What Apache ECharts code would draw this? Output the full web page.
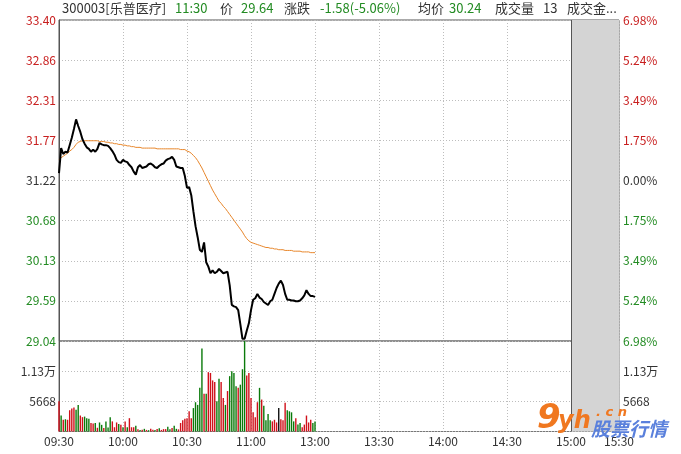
<!DOCTYPE html>
<html><head><meta charset="utf-8">
<script src="https://cdn.jsdelivr.net/npm/echarts@6/dist/echarts.min.js"></script>
<style>html,body{margin:0;padding:0;background:#fff}#c{width:681px;height:454px}</style>
</head><body><div id="c"></div>
<script>
// ---- data ----
const xMax = 262.5; // 15:30 end of after-hours on the minute axis
const timeTicks = [0, 30, 60, 90, 120, 150, 180, 210, 240, 262.5];
const timeLabels = ['09:30','10:00','10:30','11:00','13:00','13:30','14:00','14:30','15:00','15:30'];
const afterHoursStart = 240;
const priceTicks = [29.04, 29.585, 30.13, 30.675, 31.22, 31.765, 32.31, 32.855, 33.40];
const priceLabels = ['29.04','29.59','30.13','30.68','31.22','31.77','32.31','32.86','33.40'];
const pctLabels = ['6.98%','5.24%','3.49%','1.75%','0.00%','1.75%','3.49%','5.24%','6.98%'];
const volTicks = [0, 5668, 11336, 17004];
const volLabels = ['', '5668', '1.13万', ''];

const price = [
 31.32,31.66,31.58,31.61,31.60,31.70,31.80,31.92,32.05,31.96,
 31.88,31.78,31.72,31.67,31.65,31.61,31.64,31.61,31.65,31.73,
 31.71,31.70,31.70,31.69,31.66,31.62,31.57,31.50,31.47,31.46,
 31.50,31.48,31.47,31.43,31.40,31.34,31.30,31.40,31.43,31.39,
 31.40,31.41,31.44,31.45,31.43,31.40,31.39,31.42,31.44,31.45,
 31.49,31.51,31.52,31.54,31.50,31.41,31.40,31.39,31.39,31.28,
 31.12,31.13,31.02,30.80,30.60,30.45,30.28,30.25,30.38,30.11,
 30.05,29.96,30.00,29.96,29.98,30.02,29.99,29.96,29.97,29.98,
 29.80,29.53,29.51,29.50,29.46,29.27,29.07,29.07,29.18,29.28,
 29.46,29.60,29.62,29.68,29.63,29.61,29.57,29.55,29.53,29.58,
 29.60,29.68,29.76,29.82,29.86,29.80,29.68,29.60,29.60,29.59,
 29.59,29.58,29.58,29.59,29.62,29.66,29.73,29.68,29.65,29.65,
 29.64
];
const avgPrice = [
 31.50,31.53,31.55,31.57,31.59,31.62,31.64,31.67,31.71,31.74,
 31.75,31.76,31.76,31.76,31.76,31.76,31.76,31.76,31.76,31.75,
 31.75,31.75,31.74,31.74,31.73,31.73,31.72,31.72,31.71,31.71,
 31.70,31.70,31.69,31.69,31.68,31.68,31.67,31.67,31.67,31.66,
 31.66,31.66,31.66,31.66,31.66,31.66,31.65,31.65,31.65,31.65,
 31.65,31.65,31.65,31.65,31.65,31.65,31.65,31.64,31.64,31.64,
 31.62,31.61,31.59,31.56,31.53,31.49,31.44,31.39,31.33,31.27,
 31.21,31.15,31.09,31.04,30.99,30.94,30.91,30.87,30.84,30.80,
 30.76,30.72,30.68,30.64,30.60,30.56,30.52,30.47,30.43,30.40,
 30.38,30.37,30.36,30.35,30.34,30.33,30.32,30.31,30.31,30.30,
 30.30,30.29,30.29,30.28,30.28,30.28,30.27,30.27,30.27,30.27,
 30.26,30.26,30.26,30.26,30.25,30.25,30.25,30.25,30.24,30.24,
 30.24
];
const volume = [
 5700,3000,2200,2300,2200,4000,4300,4500,4100,5000,
 3000,2700,2800,2500,2400,1600,1500,1600,700,1700,
 1250,650,1900,750,2700,1900,800,1700,1400,1250,
 800,1900,800,2500,800,800,1100,400,300,350,
 500,300,250,500,350,300,450,600,300,450,
 450,900,400,650,1100,500,400,1600,2100,2400,
 2500,3800,2500,4400,5500,5000,8200,15600,7100,7100,
 11150,11000,9600,9300,5700,9900,9300,6300,5000,7600,
 10400,11300,11000,8500,8200,8800,11700,17000,10500,11000,
 6300,3600,2700,5500,8200,6000,4850,2100,3300,2100,
 1900,2200,1700,4400,2300,2100,5400,4000,3800,3600,
 1900,2500,1300,1600,800,1300,3000,1700,2200,1600,
 1900
];
// r = up minute, g = down minute, k = flat
const volDir =
 'rgrgrrrrgg' + 'rrgggrrgrg' + 'grgggrrrgr' + 'grgrrrgrgr' +
 'grgrrgrgrr' + 'rggrggrrrr' + 'rrrgggggrg' + 'rrrrggrrgr' +
 'ggggrgggrr' + 'rrrrgrgggg' + 'rrrkrrrggg' + 'grggrrrrrg' + 'g';

// ---- chart ----
const RED = '#c81e1e', GREEN = '#228b22', DARK = '#333333';
const BAR_RED = '#d0101a', BAR_GREEN = '#0a7a0a', BAR_DARK = '#111';
const FONT = '"Noto Sans CJK SC", "Microsoft YaHei", sans-serif';
const near = (arr, v) => arr.findIndex(t => Math.abs(t - v) < 1e-6);
const sideColor = (i) => i > 4 ? RED : (i < 4 ? GREEN : DARK);
const minutes = price.map((_, i) => i);

const gridLine = {show: true, lineStyle: {color: '#bdbdbd', type: [1, 2], width: 1}};
const afterHoursArea = {
  silent: true,
  itemStyle: {color: '#d4d4d4', opacity: 1},
  data: [[{xAxis: afterHoursStart}, {xAxis: xMax}]]
};
const afterHoursLine = {
  silent: true, symbol: 'none', label: {show: false},
  lineStyle: {color: '#555', type: 'solid', width: 1},
  data: [{xAxis: afterHoursStart}]
};

const chart = echarts.init(document.getElementById('c'));
chart.setOption({
  animation: false,
  backgroundColor: '#fff',
  textStyle: {fontFamily: FONT},
  grid: [
    {left: 59, right: 62, top: 20, height: 321, show: true, borderColor: '#555', borderWidth: 1},
    {left: 59, right: 62, top: 341, height: 90.5, show: true, borderColor: '#777', borderWidth: 1}
  ],
  xAxis: [
    {gridIndex: 0, type: 'value', min: 0, max: xMax,
     axisLine: {show: false}, axisTick: {show: false, customValues: timeTicks},
     axisLabel: {show: false}, splitLine: gridLine},
    {gridIndex: 1, type: 'value', min: 0, max: xMax,
     axisLine: {show: false}, axisTick: {show: false, customValues: timeTicks},
     axisLabel: {show: true, customValues: timeTicks, color: DARK, fontSize: 12, margin: 4,
       fontFamily: FONT,
       formatter: v => timeLabels[near(timeTicks, v)] || ''},
     splitLine: gridLine}
  ],
  yAxis: [
    {gridIndex: 0, type: 'value', min: 29.04, max: 33.40, position: 'left',
     axisLine: {show: true, lineStyle: {color: '#555'}}, axisTick: {show: false, customValues: priceTicks},
     axisLabel: {customValues: priceTicks, fontSize: 12, margin: 3, fontFamily: FONT,
       formatter: v => priceLabels[near(priceTicks, v)] || '',
       color: (v) => sideColor(near(priceTicks, v))},
     splitLine: gridLine},
    {gridIndex: 0, type: 'value', min: 29.04, max: 33.40, position: 'right',
     axisLine: {show: false}, axisTick: {show: false, customValues: priceTicks},
     axisLabel: {customValues: priceTicks, fontSize: 12, margin: 4, fontFamily: FONT,
       formatter: v => pctLabels[near(priceTicks, v)] || '',
       color: (v) => sideColor(near(priceTicks, v))},
     splitLine: {show: false}},
    {gridIndex: 1, type: 'value', min: 0, max: 17004, interval: 5668, position: 'left',
     axisLine: {show: true, lineStyle: {color: '#555'}}, axisTick: {show: false},
     axisLabel: {fontSize: 12, margin: 3, color: DARK, fontFamily: FONT,
       formatter: v => volLabels[near(volTicks, v)] || ''},
     splitLine: gridLine},
    {gridIndex: 1, type: 'value', min: 0, max: 17004, interval: 5668, position: 'right',
     axisLine: {show: false}, axisTick: {show: false},
     axisLabel: {fontSize: 12, margin: 4, color: DARK, fontFamily: FONT,
       formatter: v => volLabels[near(volTicks, v)] || ''},
     splitLine: {show: false}}
  ],
  series: [
    {type: 'line', xAxisIndex: 0, yAxisIndex: 0, name: 'price',
     data: minutes.map(i => [i, price[i]]), symbol: 'none', z: 5,
     lineStyle: {color: '#000', width: 2}, markArea: afterHoursArea, markLine: afterHoursLine},
    {type: 'line', xAxisIndex: 0, yAxisIndex: 0, name: 'avg',
     data: minutes.map(i => [i, avgPrice[i]]), symbol: 'none', z: 4,
     lineStyle: {color: '#e8862a', width: 1}},
    {type: 'bar', xAxisIndex: 1, yAxisIndex: 2, name: 'volume', barWidth: 1.4,
     data: minutes.map(i => ({value: [i, volume[i]],
       itemStyle: {color: volDir[i] === 'r' ? BAR_RED : (volDir[i] === 'g' ? BAR_GREEN : BAR_DARK)}})),
     markArea: afterHoursArea, markLine: afterHoursLine}
  ],
  graphic: [
    {type: 'text', left: 62, top: 2, style: {text: '300003[乐普医疗]', fill: DARK, font: '13px ' + FONT}},
    {type: 'text', left: 175, top: 2, style: {text: '11:30', fill: GREEN, font: '13px ' + FONT}},
    {type: 'text', left: 220, top: 2, style: {text: '价', fill: DARK, font: '13px ' + FONT}},
    {type: 'text', left: 241, top: 2, style: {text: '29.64', fill: GREEN, font: '13px ' + FONT}},
    {type: 'text', left: 284, top: 2, style: {text: '涨跌', fill: DARK, font: '13px ' + FONT}},
    {type: 'text', left: 320, top: 2, style: {text: '-1.58(-5.06%)', fill: GREEN, font: '13px ' + FONT}},
    {type: 'text', left: 418, top: 2, style: {text: '均价', fill: DARK, font: '13px ' + FONT}},
    {type: 'text', left: 449, top: 2, style: {text: '30.24', fill: GREEN, font: '13px ' + FONT}},
    {type: 'text', left: 495, top: 2, style: {text: '成交量', fill: DARK, font: '13px ' + FONT}},
    {type: 'text', left: 543, top: 2, style: {text: '13', fill: DARK, font: '13px ' + FONT}},
    {type: 'text', left: 567, top: 2, style: {text: '成交金...', fill: DARK, font: '13px ' + FONT}},
    // watermark
    {type: 'text', left: 537, top: 402, z: 100, style: {text: '9', fill: '#f07820', font: 'italic bold 34px "DejaVu Sans"'}},
    {type: 'text', left: 558, top: 410, z: 100, style: {text: 'yh', fill: '#f07820', font: 'italic bold 24px "DejaVu Sans"'}},
    {type: 'text', left: 596, top: 406, z: 100, style: {text: '. c n', fill: '#f07820', font: 'italic bold 13px "DejaVu Sans"'}},
    {type: 'text', left: 591, top: 419, z: 100, style: {text: '股票行情', fill: '#5a80dc', font: 'italic bold 19px ' + FONT}}
  ]
});
</script>
</body></html>
